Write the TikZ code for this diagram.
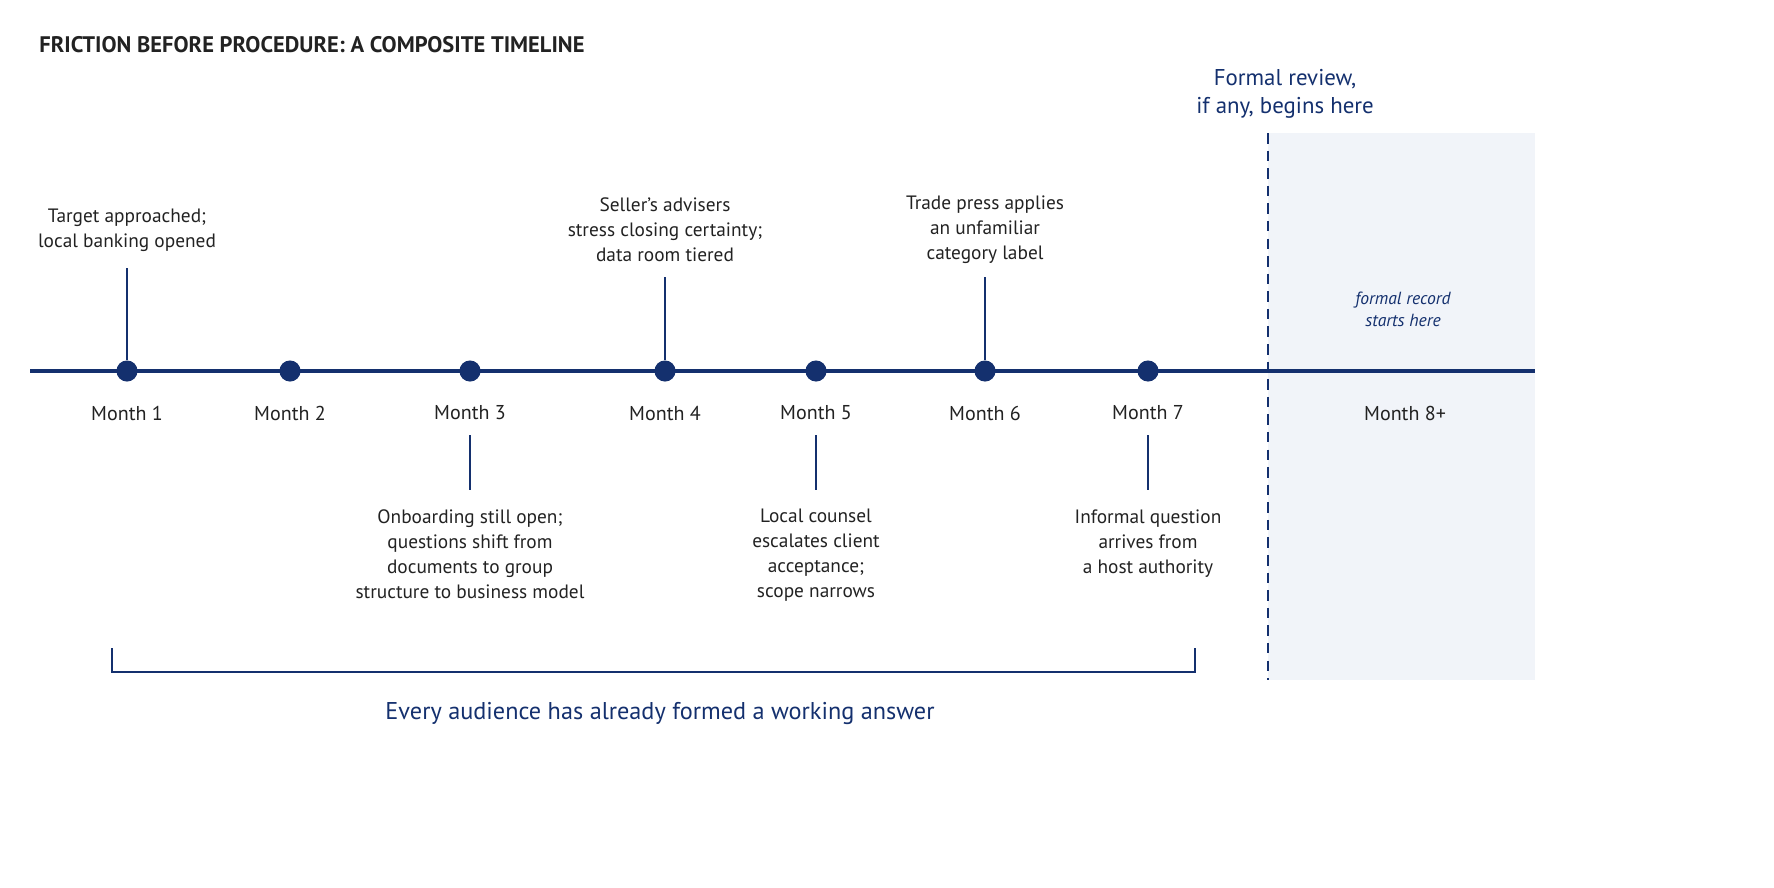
\documentclass[tikz,border=0pt]{standalone}
\usepackage{fontspec}
\setmainfont{PT Sans}
\usetikzlibrary{positioning}
\definecolor{navy}{HTML}{14306E}
\definecolor{ink}{HTML}{222222}
\definecolor{zonefill}{HTML}{F1F4F9}
\begin{document}
\begin{tikzpicture}[x=0.01cm,y=0.01cm]
    \tikzstyle{dot}=[circle,fill=navy,minimum size=6pt,inner sep=0pt]
    \tikzstyle{month}=[font=\fontsize{5.7}{7}\selectfont,text=ink]
    \tikzstyle{event}=[font=\fontsize{5.5}{7.1}\selectfont,text=ink,align=center]
    \tikzstyle{stem}=[draw=navy,line width=0.6pt]
    \useasboundingbox (0,0) rectangle (1774,887);

    % Shaded formal zone
    \fill[zonefill] (1268,207) rectangle (1535,754);
    \draw[navy,line width=0.8pt,dash pattern=on 3pt off 2pt] (1268,754) -- (1268,207);

    % Title
    \node[anchor=west,font=\fontsize{6.4}{8}\selectfont\bfseries,text=ink] (title) at (27,842) {FRICTION BEFORE PROCEDURE: A COMPOSITE TIMELINE};

    % Axis
    \coordinate (L) at (30,516);
    \coordinate (R) at (1535,516);
    \draw[navy,line width=0.9pt] (L) -- (R);

    % Dots and month labels
    \foreach \name / \x in {1/127,2/290,3/470,4/665,5/816,6/985,7/1148}{
        \node[dot] (D-\name) at (\x,516) {};
        \node[month] (M-\name) at (\x,474) {Month \name};
    }
    \node[month] (M-8) at (1405,474) {Month 8+};

    % Events above
    \node[event] (E-1) at (127,657) {Target approached;\\local banking opened};
    \node[event] (E-4) at (665,657) {Seller's advisers\\stress closing certainty;\\data room tiered};
    \node[event] (E-6) at (985,657) {Trade press applies\\an unfamiliar\\category label};
    \coordinate (T-1) at (127,619);
    \coordinate (T-4) at (665,610);
    \coordinate (T-6) at (985,610);
    \foreach \name in {1,4,6}
        \draw[stem] (T-\name) -- (D-\name);

    % Events below
    \node[event,anchor=north] (E-3) at (470,390) {Onboarding still open;\\questions shift from\\documents to group\\structure to business model};
    \node[event,anchor=north] (E-5) at (816,390) {Local counsel\\escalates client\\acceptance;\\scope narrows};
    \node[event,anchor=north] (E-7) at (1148,390) {Informal question\\arrives from\\a host authority};
    \foreach \name / \x in {3/470,5/816,7/1148}{
        \coordinate (S-\name) at (\x,452);
        \coordinate (B-\name) at (\x,397);
        \draw[stem] (S-\name) -- (B-\name);
    }

    % Formal zone labels
    \node[font=\fontsize{6.5}{8}\selectfont,text=navy,align=center] (formal) at (1285,793) {Formal review,\\if any, begins here};
    \node[font=\fontsize{5}{6.3}\selectfont\itshape,text=navy,align=center] (record) at (1403,578) {formal record\\starts here};

    % Bracket
    \coordinate (BL) at (112,215);
    \coordinate (BR) at (1195,215);
    \draw[navy,line width=0.8pt] (BL) ++(0,24) -- (BL) -- (BR) -- ++(0,24);
    \node[font=\fontsize{6.9}{9}\selectfont,text=navy] (caption) at (660,174) {Every audience has already formed a working answer};
\end{tikzpicture}
\end{document}
